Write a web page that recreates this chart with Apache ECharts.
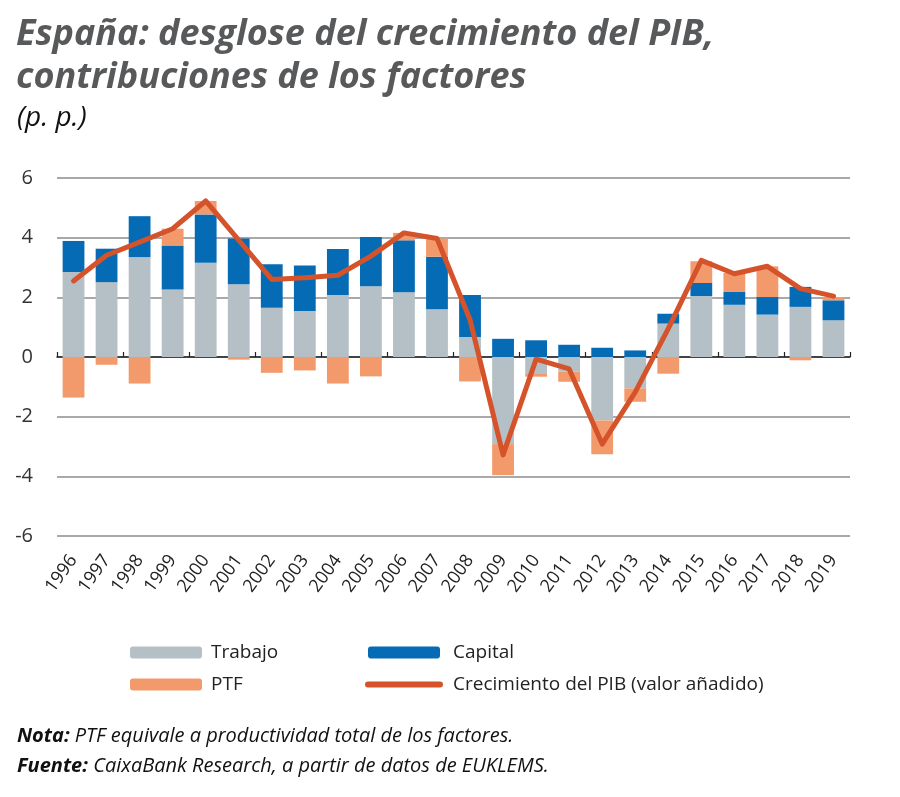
<!DOCTYPE html>
<html>
<head>
<meta charset="utf-8">
<script src="https://cdn.jsdelivr.net/npm/echarts@6/dist/echarts.min.js"></script>
<style>
html, body { margin: 0; padding: 0; background: #fff; }
#main { width: 900px; height: 797px; }
</style>
</head>
<body>
<div id="main"></div>
<script>
// datos (p.p.)
var years = ['1996','1997','1998','1999','2000','2001','2002','2003','2004','2005','2006','2007',
	'2008','2009','2010','2011','2012','2013','2014','2015','2016','2017','2018','2019'];
var trabajo = [2.85, 2.51, 3.35, 2.26, 3.16, 2.44, 1.65, 1.54, 2.08, 2.37, 2.17, 1.60,
	0.67, -2.92, -0.57, -0.49, -2.13, -1.05, 1.12, 2.04, 1.75, 1.42, 1.68, 1.23];
var capital = [1.04, 1.12, 1.37, 1.48, 1.62, 1.53, 1.46, 1.53, 1.54, 1.65, 1.74, 1.76,
	1.41, 0.61, 0.56, 0.41, 0.31, 0.22, 0.33, 0.44, 0.43, 0.59, 0.67, 0.67];
var ptf = [-1.36, -0.26, -0.89, 0.56, 0.45, -0.09, -0.53, -0.45, -0.89, -0.65, 0.25, 0.61,
	-0.82, -1.04, -0.09, -0.34, -1.13, -0.45, -0.56, 0.73, 0.64, 1.03, -0.11, 0.11];
var pib = [2.55, 3.41, 3.85, 4.30, 5.23, 3.92, 2.60, 2.66, 2.74, 3.38, 4.16, 3.97,
	1.25, -3.28, -0.07, -0.40, -2.92, -1.18, 0.95, 3.24, 2.79, 3.04, 2.29, 2.04];

var FONT = 'Open Sans';
var cGris = '#b4c0c5', cAzul = '#066bb5', cPtf = '#f39a6d', cLinea = '#d4532a';
var nombrePib = 'Crecimiento del PIB (valor añadido)';

function init(){
	var myChart = echarts.init(document.getElementById('main'));
	var option = {
		animation: false,
		textStyle: { fontFamily: FONT },
		grid: { left: 57, right: 50, top: 178, bottom: 261 },
		legend: [{
			left: 125, top: 638, orient: 'vertical',
			itemWidth: 72, itemHeight: 12, itemGap: 13,
			textStyle: { fontSize: 19, color: '#222', padding: [0, 0, 0, 4] },
			data: ['Trabajo', 'PTF']
		}, {
			left: 360, top: 638, orient: 'vertical',
			itemWidth: 72, itemHeight: 12, itemGap: 13,
			textStyle: { fontSize: 19, color: '#222', padding: [0, 0, 0, 8] },
			data: ['Capital', {
				name: nombrePib,
				itemStyle: { opacity: 0 },
				lineStyle: { width: 6, color: cLinea, cap: 'round' }
			}]
		}],
		xAxis: [{
			type: 'category',
			data: years,
			axisLine: { show: false, onZero: false },
			axisTick: { show: false },
			axisLabel: { rotate: 54, fontSize: 18, color: '#222', margin: 21, interval: 0 }
		}, {
			type: 'category',
			position: 'bottom',
			data: years,
			axisLine: { show: true, onZero: true, lineStyle: { color: '#222', width: 1.5 } },
			axisTick: { show: true, inside: true, length: 5, lineStyle: { color: '#222', width: 1.2 } },
			axisLabel: { show: false }
		}],
		yAxis: {
			type: 'value',
			min: -6, max: 6, interval: 2,
			axisLine: { show: false },
			axisTick: { show: false },
			axisLabel: { fontSize: 20, color: '#333', margin: 24 },
			splitLine: { lineStyle: { color: '#8c8c8c', width: 1.5 } }
		},
		series: [{
			name: 'Trabajo', type: 'bar', stack: 'pib', data: trabajo,
			barWidth: '66%', itemStyle: { color: cGris }
		}, {
			name: 'Capital', type: 'bar', stack: 'pib', data: capital,
			itemStyle: { color: cAzul }
		}, {
			name: 'PTF', type: 'bar', stack: 'pib', data: ptf,
			itemStyle: { color: cPtf }
		}, {
			name: nombrePib, type: 'line', data: pib,
			symbol: 'none', z: 5,
			lineStyle: { color: cLinea, width: 5, join: 'round', cap: 'round' },
			itemStyle: { color: cLinea }
		}],
		graphic: [{
			type: 'text', left: 16, top: 13,
			style: {
				text: 'España: desglose del crecimiento del PIB,\ncontribuciones de los factores',
				fontFamily: FONT, fontSize: 36, fontWeight: 'bold', fontStyle: 'italic',
				fill: '#58595b', lineHeight: 43
			}
		}, {
			type: 'text', left: 17, top: 104,
			style: {
				text: '(p. p.)', fontFamily: FONT, fontSize: 28, fontStyle: 'italic', fill: '#111'
			}
		}, {
			type: 'text', left: 17, top: 721,
			style: {
				text: '{b|Nota:} PTF equivale a productividad total de los factores.\n{b|Fuente:} CaixaBank Research, a partir de datos de EUKLEMS.',
				fontFamily: FONT, fontSize: 20, fontStyle: 'italic', fill: '#111', lineHeight: 30,
				rich: { b: { fontFamily: FONT, fontSize: 20, fontStyle: 'italic', fontWeight: 'bold', fill: '#111' } }
			}
		}]
	};
	myChart.setOption(option);
}
init();
</script>
</body>
</html>
